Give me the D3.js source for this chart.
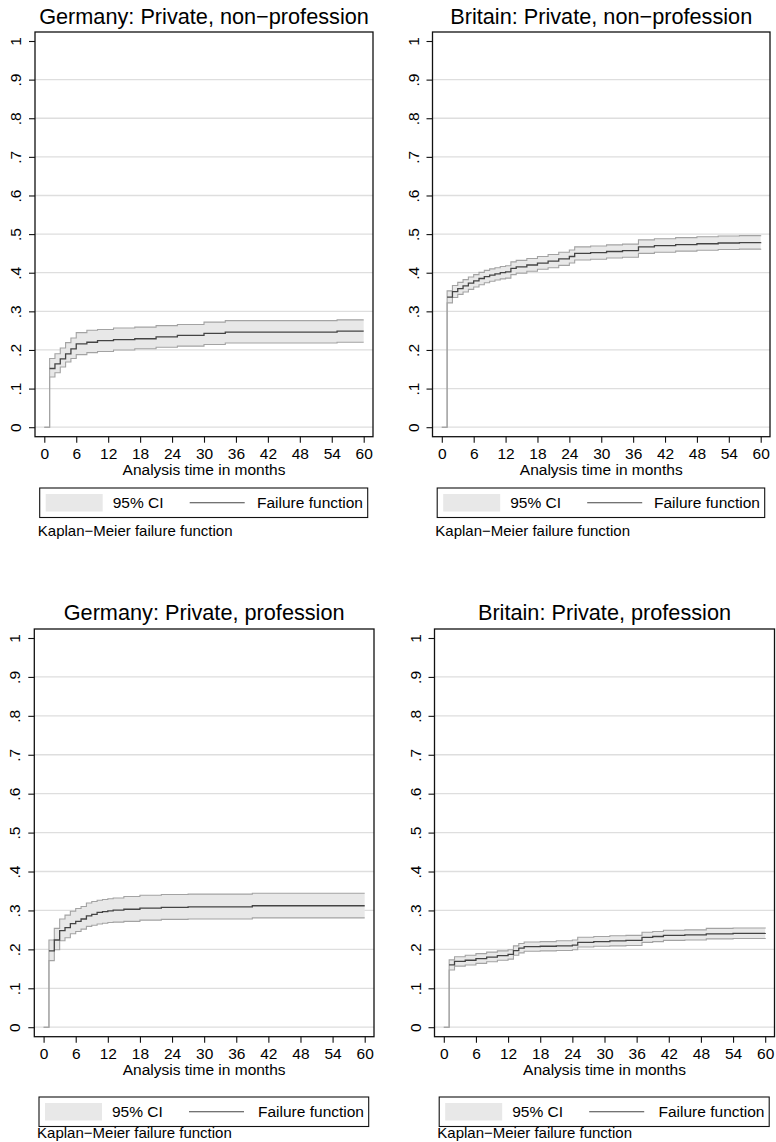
<!DOCTYPE html>
<html><head><meta charset="utf-8">
<script src="https://cdn.jsdelivr.net/npm/d3@7"></script>
<style>
body{margin:0;background:#fff}
svg{display:block}
text{font-family:"Liberation Sans",Arial,Helvetica,sans-serif;fill:#000}
</style>
</head><body>
<svg id="chart" width="776" height="1142"></svg>
<script>
// ---------- labels ----------
const panelTitles = [
  "Germany: Private, non\u2212profession",
  "Britain: Private, non\u2212profession",
  "Germany: Private, profession",
  "Britain: Private, profession"
];
const xTickValues = [0, 6, 12, 18, 24, 30, 36, 42, 48, 54, 60];
const yTickValues = [0, .1, .2, .3, .4, .5, .6, .7, .8, .9, 1];
const yTickLabels = ["0", ".1", ".2", ".3", ".4", ".5", ".6", ".7", ".8", ".9", "1"];
const xAxisTitle = "Analysis time in months";
const legendLabels = ["95% CI", "Failure function"];
const noteText = "Kaplan\u2212Meier failure function";

// ---------- Germany: Private, non-profession ----------
const gerNonProfTime = [0, 1, 2, 3, 4, 5, 6, 8, 10, 13, 17, 21, 25, 30, 34, 55, 60];
const gerNonProfEst  = [0, .152, .164, .177, .190, .203, .216, .220, .224, .227, .229, .234, .238, .243, .246, .249, .249];
const gerNonProfLo   = [0, .130, .141, .156, .169, .178, .188, .193, .196, .200, .203, .207, .210, .214, .218, .220, .220];
const gerNonProfHi   = [0, .178, .190, .205, .219, .231, .245, .251, .253, .257, .259, .263, .266, .272, .276, .278, .278];

// ---------- Britain: Private, non-profession ----------
const briNonProfTime = [0, 1, 2, 3, 4, 5, 6, 7, 8, 9, 10, 11, 12, 13, 14, 16, 18, 20, 22, 24, 25, 28, 31, 34, 37, 40, 44, 48, 52, 56, 60];
const briNonProfEst  = [0, .337, .351, .359, .366, .373, .379, .385, .390, .394, .397, .400, .402, .411, .415, .420, .425, .430, .436, .442, .450, .452, .455, .457, .467, .470, .473, .475, .477, .478, .479];
const briNonProfLo   = [0, .322, .336, .344, .350, .357, .363, .369, .374, .378, .381, .384, .386, .395, .399, .404, .409, .413, .419, .425, .433, .435, .438, .440, .450, .453, .456, .458, .460, .461, .462];
const briNonProfHi   = [0, .353, .367, .375, .382, .389, .395, .401, .406, .410, .413, .416, .418, .428, .432, .437, .442, .447, .453, .459, .467, .469, .472, .474, .485, .488, .491, .493, .495, .496, .497];

// ---------- Germany: Private, profession ----------
const gerProfTime = [0, 1, 2, 3, 4, 5, 6, 7, 8, 9, 10, 11, 12, 13, 15, 18, 22, 27, 39, 60];
const gerProfEst  = [0, .196, .224, .248, .256, .266, .272, .278, .286, .290, .295, .297, .299, .301, .303, .306, .308, .309, .312, .312];
const gerProfLo   = [0, .171, .199, .222, .230, .240, .246, .252, .259, .262, .265, .267, .269, .270, .272, .275, .277, .278, .281, .281];
const gerProfHi   = [0, .224, .254, .278, .288, .298, .305, .310, .319, .323, .326, .328, .330, .332, .336, .339, .341, .342, .344, .344];

// ---------- Britain: Private, profession ----------
const briProfTime = [0, 1, 2, 4, 6, 8, 10, 12, 13, 14, 15, 18, 21, 24, 25, 28, 31, 34, 37, 39, 41, 45, 49, 54, 60];
const briProfEst  = [0, .160, .169, .172, .176, .180, .184, .187, .197, .203, .207, .208, .209, .211, .218, .220, .222, .223, .231, .233, .236, .237, .240, .241, .242];
const briProfLo   = [0, .147, .157, .160, .164, .168, .172, .175, .185, .191, .195, .196, .197, .199, .206, .208, .209, .210, .218, .220, .223, .224, .227, .228, .229];
const briProfHi   = [0, .173, .181, .185, .189, .193, .196, .199, .209, .215, .219, .220, .222, .224, .231, .233, .235, .236, .244, .246, .249, .250, .254, .255, .256];

const panelSeries = [
  [gerNonProfTime, gerNonProfEst, gerNonProfLo, gerNonProfHi],
  [briNonProfTime, briNonProfEst, briNonProfLo, briNonProfHi],
  [gerProfTime, gerProfEst, gerProfLo, gerProfHi],
  [briProfTime, briProfEst, briProfLo, briProfHi]
];

// ---------- layout (positions only) ----------
const layout = [
  {L: 35,    R: 373,   T: 32,  B: 436.7,  legTop: 488,  capY: 535.7, titleY: 23.5},
  {L: 432.5, R: 770,   T: 32,  B: 436.7,  legTop: 488,  capY: 535.7, titleY: 23.5},
  {L: 34.3,  R: 374,   T: 629, B: 1036.7, legTop: 1097, capY: 1138,  titleY: 620},
  {L: 434.5, R: 774.5, T: 629, B: 1036.7, legTop: 1097, capY: 1138,  titleY: 620}
];
const PAD = 9.3;
const FS = 15.5;

const svg = d3.select("#chart");

layout.forEach((p, i) => {
  const [time, est, lo, hi] = panelSeries[i];
  const rows = time.map((t, k) => ({t, e: est[k], lo: lo[k], hi: hi[k]}));

  const x = d3.scaleLinear().domain([0, 60]).range([p.L + PAD, p.R - PAD]);
  const y = d3.scaleLinear().domain([0, 1]).range([p.B - 9.5, p.T + 9]);

  const g = svg.append("g");

  // title
  g.append("text").attr("x", (p.L + p.R) / 2).attr("y", p.titleY)
    .attr("text-anchor", "middle").style("font-size", "21.7px").text(panelTitles[i]);

  // gridlines (not at 1)
  g.selectAll("line.grid").data(yTickValues.filter(v => v < 1)).join("line")
    .attr("class", "grid")
    .attr("x1", p.L).attr("x2", p.R)
    .attr("y1", d => y(d)).attr("y2", d => y(d))
    .attr("stroke", "#dedede").attr("stroke-width", 1.3);

  // CI band
  const area = d3.area().curve(d3.curveStepAfter)
    .x(d => x(d.t)).y0(d => y(d.lo)).y1(d => y(d.hi));
  g.append("path").datum(rows).attr("d", area).attr("fill", "#e8e8e8");

  const lineHi = d3.line().curve(d3.curveStepAfter).x(d => x(d.t)).y(d => y(d.hi));
  const lineLo = d3.line().curve(d3.curveStepAfter).x(d => x(d.t)).y(d => y(d.lo));
  g.append("path").datum(rows).attr("d", lineLo).attr("fill", "none")
    .attr("stroke", "#a3a3a3").attr("stroke-width", 1.1);
  g.append("path").datum(rows).attr("d", lineHi).attr("fill", "none")
    .attr("stroke", "#a3a3a3").attr("stroke-width", 1.1);

  // failure function
  const lineE = d3.line().curve(d3.curveStepAfter).x(d => x(d.t)).y(d => y(d.e));
  g.append("path").datum(rows.slice(1)).attr("d", lineE).attr("fill", "none")
    .attr("stroke", "#444").attr("stroke-width", 1.3);

  // frame
  g.append("rect").attr("x", p.L).attr("y", p.T)
    .attr("width", p.R - p.L).attr("height", p.B - p.T)
    .attr("fill", "none").attr("stroke", "#111").attr("stroke-width", 1.3);

  // x axis
  const xa = g.append("g").attr("transform", `translate(0,${p.B})`)
    .call(d3.axisBottom(x).tickValues(xTickValues).tickSize(6).tickFormat(d3.format("d")));
  xa.select(".domain").remove();
  xa.selectAll(".tick line").attr("stroke", "#111").attr("stroke-width", 1.1);
  xa.selectAll(".tick text").attr("y", 22).attr("dy", null)
    .style("font-size", FS + "px").attr("fill", "#000");

  // y axis
  const ya = g.append("g").attr("transform", `translate(${p.L},0)`)
    .call(d3.axisLeft(y).tickValues(yTickValues).tickSize(6).tickFormat((d, k) => yTickLabels[k]));
  ya.select(".domain").remove();
  ya.selectAll(".tick line").attr("stroke", "#111").attr("stroke-width", 1.1);
  ya.selectAll(".tick text").attr("x", null).attr("dy", null)
    .attr("text-anchor", "middle")
    .attr("transform", "translate(-14,0) rotate(-90)")
    .style("font-size", FS + "px").attr("fill", "#000");

  // axis title
  g.append("text").attr("x", (p.L + p.R) / 2 ).attr("y", p.B + 38.5)
    .attr("text-anchor", "middle").style("font-size", FS + "px").text(xAxisTitle);

  // legend
  const bL = p.L + 4.7, bR = p.R - 5.3, bT = p.legTop, bH = 29.5;
  g.append("rect").attr("x", bL).attr("y", bT).attr("width", bR - bL).attr("height", bH)
    .attr("fill", "#fff").attr("stroke", "#111").attr("stroke-width", 1.1);
  g.append("rect").attr("x", bL + 6).attr("y", bT + 6).attr("width", 57).attr("height", bH - 12)
    .attr("fill", "#e8e8e8");
  g.append("text").attr("x", bL + 73).attr("y", bT + 19.7)
    .style("font-size", FS + "px").text(legendLabels[0]);
  g.append("line").attr("x1", bL + 150).attr("x2", bL + 205)
    .attr("y1", bT + bH / 2).attr("y2", bT + bH / 2)
    .attr("stroke", "#444").attr("stroke-width", 1.1);
  g.append("text").attr("x", bR - 4.7).attr("y", bT + 19.7)
    .attr("text-anchor", "end").style("font-size", FS + "px").text(legendLabels[1]);

  // note
  g.append("text").attr("x", p.L + 2.8).attr("y", p.capY)
    .style("font-size", "15px").text(noteText);
});
</script>
</body></html>
